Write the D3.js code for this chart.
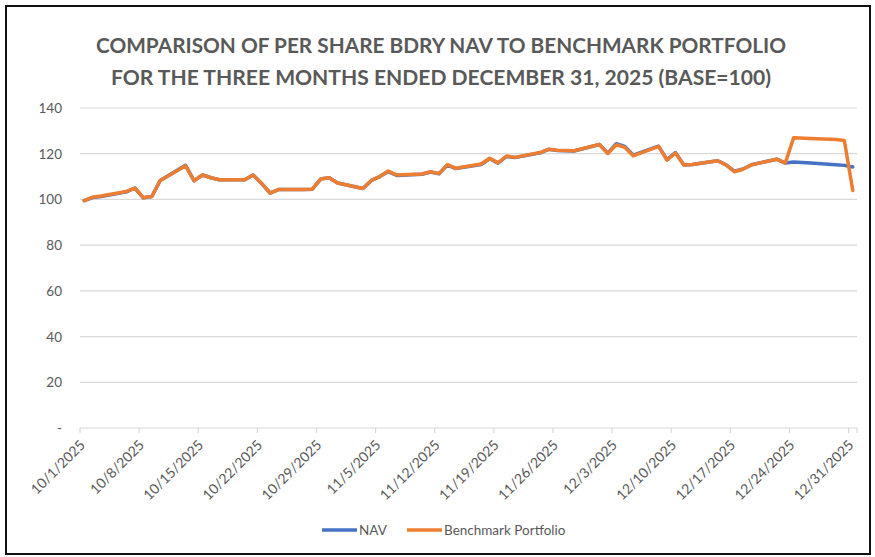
<!DOCTYPE html>
<html><head><meta charset="utf-8">
<script src="https://cdn.jsdelivr.net/npm/d3@7"></script>
<style>
html,body{margin:0;padding:0;background:#fff;}
svg{display:block;}
</style></head>
<body>
<svg id="chart" width="875" height="557"></svg>
<script>
const titleLines = ["COMPARISON OF PER SHARE BDRY NAV TO BENCHMARK PORTFOLIO",
                    "FOR THE THREE MONTHS ENDED DECEMBER 31, 2025 (BASE=100)"];
const dates = ["10/1/2025","10/2/2025","10/3/2025","10/6/2025","10/7/2025","10/8/2025","10/9/2025","10/10/2025",
 "10/13/2025","10/14/2025","10/15/2025","10/16/2025","10/17/2025","10/20/2025","10/21/2025","10/22/2025","10/23/2025","10/24/2025",
 "10/27/2025","10/28/2025","10/29/2025","10/30/2025","10/31/2025","11/3/2025","11/4/2025","11/5/2025","11/6/2025","11/7/2025",
 "11/10/2025","11/11/2025","11/12/2025","11/13/2025","11/14/2025","11/17/2025","11/18/2025","11/19/2025","11/20/2025","11/21/2025",
 "11/24/2025","11/25/2025","11/26/2025","11/28/2025","12/1/2025","12/2/2025","12/3/2025","12/4/2025","12/5/2025",
 "12/8/2025","12/9/2025","12/10/2025","12/11/2025","12/12/2025","12/15/2025","12/16/2025","12/17/2025","12/18/2025","12/19/2025",
 "12/22/2025","12/23/2025","12/24/2025","12/26/2025","12/29/2025","12/30/2025","12/31/2025"];
const benchmark = [99.5,101,101.5,103.5,105,100.7,101.3,108.3,
 114.7,108.2,110.7,109.5,108.6,108.6,110.7,107,102.8,104.3,
 104.3,104.5,108.9,109.5,107.2,104.8,108.3,110,112.4,110.7,
 111.1,112.1,111.3,115.2,113.6,115.5,118,116,119,118.4,
 120.5,122,121.5,121.3,124,120.1,123.9,122.8,119.1,
 123.2,117.2,120.3,115.1,115.3,116.9,115.1,112.1,113.2,115.1,
 117.6,115.9,127,126.7,126.2,125.8,103.9];
const nav = [99.5,100.8,101.3,103.3,105,100.7,101.3,108.3,
 114.9,108.2,110.7,109.5,108.6,108.6,110.7,107,102.8,104.3,
 104.3,104.5,108.9,109.5,107.2,104.8,108.3,110,112.2,110.5,
 111,112,111.2,115,113.5,115.3,117.8,115.9,118.8,118.3,
 120.4,121.9,121.4,121.2,124,120.2,124.4,123.2,119.4,
 123.3,117.4,120.5,115.1,115.3,116.9,115.1,112.3,113.3,115.2,
 117.6,115.9,116.4,115.9,115.2,114.9,114.2];
const xTickLabels = ["10/1/2025","10/8/2025","10/15/2025","10/22/2025","10/29/2025","11/5/2025","11/12/2025",
 "11/19/2025","11/26/2025","12/3/2025","12/10/2025","12/17/2025","12/24/2025","12/31/2025"];
const yTicks = [0,20,40,60,80,100,120,140];
const seriesNames = ["NAV","Benchmark Portfolio"];
const colors = ["#4472C4","#ED7D31"];

const parse = d3.timeParse("%m/%d/%Y");
const svg = d3.select("#chart");
const fontFam = "Lato, 'Open Sans', 'Liberation Sans', sans-serif";
const grey = "#595959";

// frame
svg.append("rect").attr("x",6).attr("y",6).attr("width",864).attr("height",548)
  .attr("fill","#fff").attr("stroke","#111").attr("stroke-width",2);

const x = d3.scaleTime().domain([parse("10/1/2025"), parse("1/1/2026")]).range([80, 857]);
const y = d3.scaleLinear().domain([0,140]).range([428,108]);
const half = (x(parse("10/2/2025")) - x(parse("10/1/2025")))/2;

// title
const tl = svg.append("g");
const titleW = [690, 660];
titleLines.forEach((t,i)=>{
  tl.append("text").attr("x",441).attr("y",53+i*32).attr("text-anchor","middle")
    .attr("font-family",fontFam).attr("font-weight","bold").attr("font-size",20)
    .attr("fill",grey).attr("textLength",titleW[i]).attr("lengthAdjust","spacingAndGlyphs").text(t);
});

// gridlines
svg.append("g").selectAll("line").data(yTicks).join("line")
  .attr("x1",80).attr("x2",857).attr("y1",d=>y(d)).attr("y2",d=>y(d))
  .attr("stroke","#D9D9D9").attr("stroke-width",1.2);

// y labels
svg.append("g").selectAll("text").data(yTicks).join("text")
  .attr("x",62).attr("y",d=>y(d)+5).attr("text-anchor","end")
  .attr("font-family",fontFam).attr("font-size",13.5).attr("fill",grey)
  .text(d=>d===0?"-":d);

// x axis ticks and labels
const xt = svg.append("g");
const tickDates = xTickLabels.map(parse);
xt.selectAll("line").data(tickDates.concat([parse("1/1/2026")])).join("line")
  .attr("x1",d=>x(d)).attr("x2",d=>x(d)).attr("y1",428).attr("y2",433)
  .attr("stroke","#D9D9D9").attr("stroke-width",1.2);
xt.selectAll("text").data(xTickLabels).join("text")
  .attr("transform",d=>`translate(${x(parse(d))+6},${446}) rotate(-45)`)
  .attr("text-anchor","end").attr("font-family",fontFam).attr("font-size",14).attr("fill",grey)
  .text(d=>d);

// lines
const line = d3.line().x(d=>x(d.date)+half).y(d=>y(d.v));
const seriesData = [nav, benchmark].map(arr => arr.map((v,i)=>({date:parse(dates[i]), v})));
seriesData.forEach((s,i)=>{
  svg.append("path").datum(s).attr("d",line).attr("fill","none")
    .attr("stroke",colors[i]).attr("stroke-width",3.5).attr("stroke-linejoin","round").attr("stroke-linecap","round");
});

// legend
const lg = svg.append("g");
const legPos = [{lx:322, tx:359},{lx:407, tx:444}];
seriesNames.forEach((n,i)=>{
  lg.append("line").attr("x1",legPos[i].lx).attr("x2",legPos[i].lx+35).attr("y1",530).attr("y2",530)
    .attr("stroke",colors[i]).attr("stroke-width",3.5);
  lg.append("text").attr("x",legPos[i].tx).attr("y",535).attr("font-family",fontFam)
    .attr("font-size",13.5).attr("fill",grey).text(n);
});
</script>
</body></html>
